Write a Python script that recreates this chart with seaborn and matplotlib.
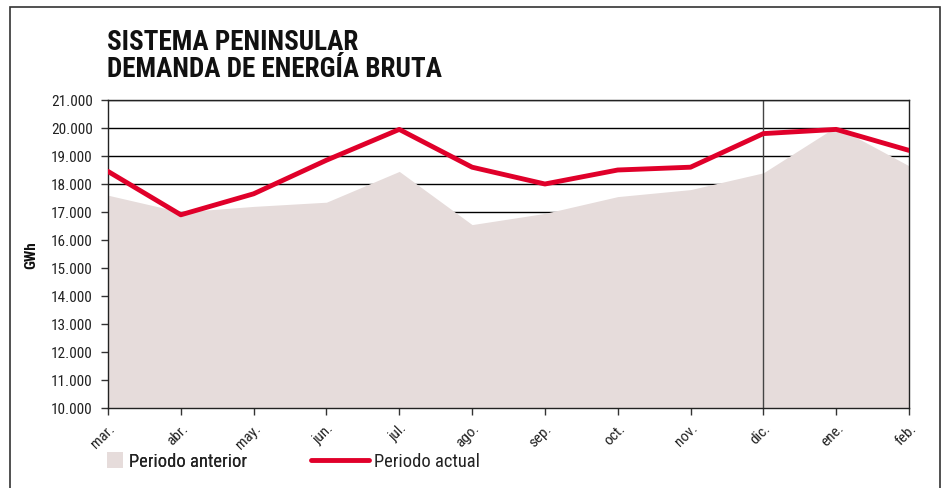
import matplotlib
matplotlib.use("Agg")
import matplotlib.pyplot as plt
import seaborn as sns
import pandas as pd
from matplotlib.patches import Rectangle, Patch
from matplotlib.lines import Line2D
from matplotlib import font_manager

months = ["mar.", "abr.", "may.", "jun.", "jul.", "ago.", "sep.", "oct.", "nov.", "dic.", "ene.", "feb."]
periodo_anterior = [17600, 17000, 17200, 17350, 18450, 16550, 16950, 17550, 17800, 18400, 20050, 18650]
periodo_actual = [18450, 16900, 17650, 18850, 19950, 18600, 18000, 18500, 18600, 19800, 19950, 19200]
y_ticks = list(range(10000, 21001, 1000))
y_tick_labels = [f"{v // 1000}.000" for v in y_ticks]

sns.set_theme(style="white")
names = {f.name for f in font_manager.fontManager.ttflist}
fam = "DejaVu Sans"
for cand in ["Roboto Condensed", "Liberation Sans Narrow", "Archivo Narrow", "Barlow Semi Condensed", "Barlow Condensed"]:
    if cand in names:
        fam = cand
        break
plt.rcParams["font.family"] = [fam, "DejaVu Sans"]

df = pd.DataFrame({"x": range(len(months)), "anterior": periodo_anterior, "actual": periodo_actual})

fig = plt.figure(figsize=(9.44, 4.89), dpi=100)
ax = fig.add_axes([108 / 944, 1 - 409 / 489, (909 - 108) / 944, (409 - 101) / 489])

AREA = "#E6DCDB"
RED = "#E0002A"
TXT = "#222222"

for v in y_ticks:
    ax.axhline(v, color="black", lw=1.0, zorder=0)
ax.fill_between(df["x"], 10000, df["anterior"], color=AREA, lw=0, zorder=1)
sns.lineplot(data=df, x="x", y="actual", ax=ax, color=RED, lw=3.5, zorder=3, legend=False)
ax.axvline(9, color="#444444", lw=1.0, zorder=2)

ax.set_xlim(0, len(months) - 1)
ax.set_ylim(10000, 21000)
ax.set_yticks(y_ticks)
ax.set_yticklabels(y_tick_labels, fontsize=11, color=TXT)
ax.set_xticks(range(len(months)))
ax.set_xticklabels(months, rotation=45, ha="right", va="top", rotation_mode="anchor", fontsize=11, color=TXT)
ax.tick_params(axis="both", direction="out", length=5, width=1, color="#333333", left=True, bottom=True)
ax.tick_params(axis="y", pad=6)
ax.tick_params(axis="x", pad=4)
ax.set_xlabel("")
ax.set_ylabel("GWh", fontsize=11, fontweight="bold", color="#111111")
ax.yaxis.set_label_coords(-0.0874, 0.5)
for s in ax.spines.values():
    s.set_visible(True)
    s.set_color("#222222")
    s.set_linewidth(1.0)

fig.text(107 / 944, 1 - 50 / 489, "SISTEMA PENINSULAR", fontsize=19.5, fontweight="bold",
         ha="left", va="baseline", color="#111111")
fig.text(107 / 944, 1 - 77 / 489, "DEMANDA DE ENERGÍA BRUTA", fontsize=19.5, fontweight="bold",
         ha="left", va="baseline", color="#111111")

# frame
fig.add_artist(Rectangle((10 / 944, -0.02), (940 - 10) / 944, 1 - 8 / 489 + 0.02, transform=fig.transFigure,
                         fill=False, edgecolor="#333333", lw=1.2))

leg1 = fig.legend(handles=[Patch(facecolor=AREA, edgecolor="none", label="Periodo anterior")],
                  loc="center left", bbox_to_anchor=(90 / 944, 1 - 462 / 489), frameon=False,
                  fontsize=13.3, handlelength=0.9, handleheight=0.95, handletextpad=0.3, labelcolor=TXT)
fig.add_artist(leg1)
fig.legend(handles=[Line2D([0], [0], color=RED, lw=3.5, label="Periodo actual")],
           loc="center left", bbox_to_anchor=(294 / 944, 1 - 462 / 489), frameon=False,
           fontsize=13.3, handlelength=3.15, handletextpad=0.3, labelcolor=TXT)

fig.savefig("out.png", dpi=100)
